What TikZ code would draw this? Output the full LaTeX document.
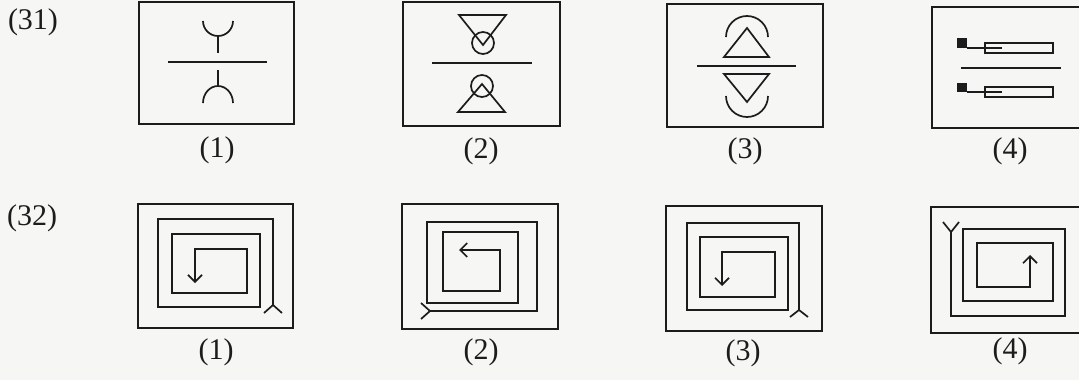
\documentclass[tikz,border=0pt]{standalone}
\usepackage{fontspec}
\setmainfont{Liberation Serif}
\usetikzlibrary{arrows.meta}
\definecolor{ink}{RGB}{28,28,28}
\definecolor{paper}{RGB}{246,246,244}
\begin{document}
\begin{tikzpicture}[x=1pt,y=-1pt]
\tikzset{
  boxframe/.style={draw=ink,line width=2pt},
  fig/.style={draw=ink,line width=1.7pt,line join=miter},
  thinfig/.style={draw=ink,line width=1.3pt},
  arr/.style={fig,-{Straight Barb[length=7pt,width=14pt]}},
  lbl/.style={font=\fontsize{30}{33}\selectfont,text=ink,inner sep=0pt}
}
\useasboundingbox (0,0) rectangle (1079,380);
\clip (0,0) rectangle (1079,380);
\fill[paper] (0,0) rectangle (1079,380);

% question numbers
\node[lbl] (q31) at (33,22) {(31)};
\node[lbl] (q32) at (32,218) {(32)};

% ---------- Row 1 ----------
% (1)
\draw[boxframe] (139,2) rectangle (294,124);
\draw[fig] (168,62) -- (267,62);
\draw[fig] (203,21) arc[start angle=180,end angle=0,radius=15];
\draw[fig] (218,36) -- (218,53);
\draw[fig] (218,70) -- (218,86);
\draw[fig] (203,103) arc[start angle=180,end angle=360,x radius=15,y radius=17];
\node[lbl] (a1) at (217,150) {(1)};

% (2)
\draw[boxframe] (403,2) rectangle (560,126);
\draw[fig] (432,63) -- (532,63);
\draw[fig] (459,15) -- (506,15) -- (483,45) -- cycle;
\draw[fig] (483,43) circle[radius=11];
\draw[fig] (482,86) circle[radius=11];
\draw[fig] (482,84) -- (505,112) -- (458,112) -- cycle;
\node[lbl] (a2) at (481,151) {(2)};

% (3)
\draw[boxframe] (667,4) rectangle (823,127);
\draw[fig] (697,66) -- (796,66);
\draw[fig] (747,28) -- (769,57) -- (724,57) -- cycle;
\draw[fig] (726,37) arc[start angle=180,end angle=360,radius=21];
\draw[fig] (724,74) -- (769,74) -- (747,102) -- cycle;
\draw[fig] (726,96) arc[start angle=180,end angle=0,radius=21];
\node[lbl] (a3) at (745,151) {(3)};

% (4)
\draw[boxframe] (932,7) rectangle (1087,128);
\fill[ink] (957,38) rectangle (967,48);
\draw[thinfig] (967,48) -- (1002,48);
\draw[thinfig] (985,43) rectangle (1053,53);
\draw[fig] (961,68) -- (1061,68);
\fill[ink] (957,83) rectangle (967,92);
\draw[thinfig] (967,92) -- (1002,92);
\draw[thinfig] (985,87) rectangle (1053,97);
\node[lbl] (a4) at (1010,151) {(4)};

% ---------- Row 2 ----------
% (1)
\draw[boxframe] (138,204) rectangle (293,328);
\draw[arr] (273,305) -- (273,219) -- (158,219) -- (158,307) -- (260,307) -- (260,234)
  -- (172,234) -- (172,293) -- (247,293) -- (247,249) -- (195,249) -- (195,283);
\draw[fig] (264,313) -- (273,305) -- (282,313);
\node[lbl] (b1) at (216,352) {(1)};

% (2)
\draw[boxframe] (402,204) rectangle (558,329);
\draw[arr] (430,311) -- (537,311) -- (537,222) -- (427,222) -- (427,303) -- (518,303)
  -- (518,232) -- (443,232) -- (443,291) -- (500,291) -- (500,250) -- (459,250);
\draw[fig] (421,303) -- (430,311) -- (421,319);
\node[lbl] (b2) at (481,352) {(2)};

% (3)
\draw[boxframe] (666,206) rectangle (822,331);
\draw[arr] (799,310) -- (799,223) -- (687,223) -- (687,310) -- (788,310) -- (788,237)
  -- (700,237) -- (700,297) -- (775,297) -- (775,252) -- (722,252) -- (722,286);
\draw[fig] (790,317) -- (799,310) -- (808,317);
\node[lbl] (b3) at (743,353) {(3)};

% (4)
\draw[boxframe] (931,207) rectangle (1087,333);
\draw[arr] (951,232) -- (951,316) -- (1065,316) -- (1065,229) -- (963,229) -- (963,301)
  -- (1053,301) -- (1053,243) -- (977,243) -- (977,287) -- (1030,287) -- (1030,255);
\draw[fig] (943,222) -- (951,232) -- (959,222);
\node[lbl] (b4) at (1010,351) {(4)};
\end{tikzpicture}
\end{document}
